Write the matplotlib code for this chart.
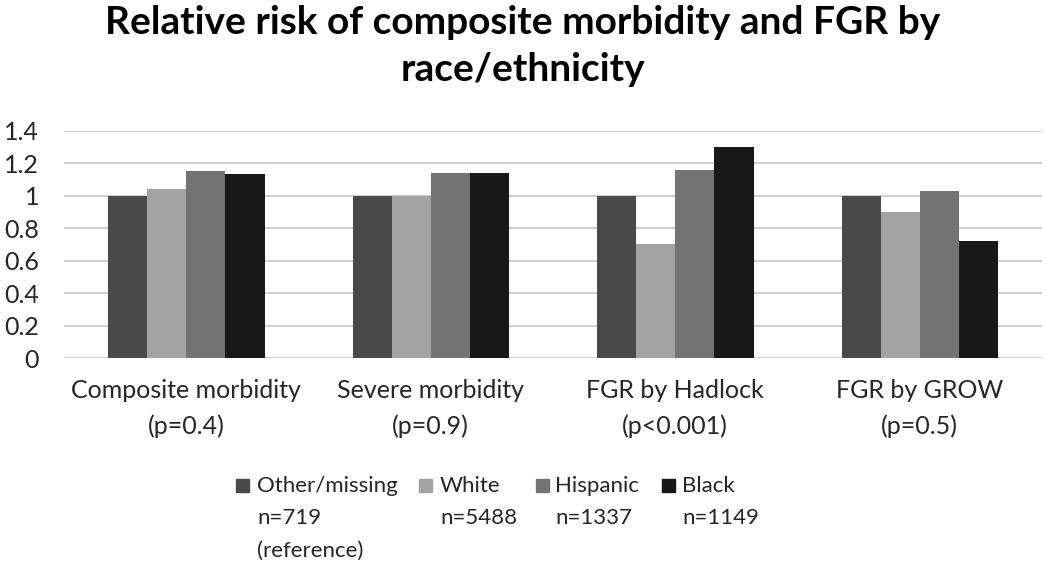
import numpy as np
import matplotlib.pyplot as plt
from matplotlib.patches import Rectangle

plt.rcParams['font.family'] = ['Lato', 'DejaVu Sans']

categories = ['Composite morbidity\n(p=0.4)', 'Severe morbidity\n(p=0.9)',
              'FGR by Hadlock\n(p<0.001)', 'FGR by GROW\n(p=0.5)']
series_names = ['Other/missing\nn=719\n(reference)', 'White\nn=5488',
                'Hispanic\nn=1337', 'Black\nn=1149']
other_missing = [1.0, 1.0, 1.0, 1.0]
white = [1.04, 1.0, 0.70, 0.90]
hispanic = [1.15, 1.14, 1.155, 1.03]
black = [1.13, 1.14, 1.30, 0.72]
colors = ['#494949', '#a3a3a3', '#737373', '#181818']
yticks = [0, 0.2, 0.4, 0.6, 0.8, 1, 1.2, 1.4]
ytick_labels = ['0', '0.2', '0.4', '0.6', '0.8', '1', '1.2', '1.4']

series = [other_missing, white, hispanic, black]
text_color = '#262626'

fig = plt.figure(figsize=(10.46, 5.65), dpi=100)
ax = fig.add_axes([0.0612, 0.366, 0.935, 0.403])

x = np.arange(len(categories))
width = 0.16
for i, vals in enumerate(series):
    ax.bar(x + (i - 1.5) * width, vals, width, color=colors[i], zorder=3)

ax.set_ylim(0, 1.4)
ax.set_xlim(-0.5, len(categories) - 0.5)
ax.set_yticks(yticks)
ax.set_yticklabels(ytick_labels, fontsize=18, color=text_color)
ax.set_xticks(x)
ax.set_xticklabels(categories, fontsize=18, color=text_color, linespacing=1.65)
ax.tick_params(length=0)
ax.tick_params(axis='x', pad=15)
ax.tick_params(axis='y', pad=18)
ax.grid(axis='y', color='#d0d0d0', linewidth=1.5, zorder=0)
for s in ax.spines.values():
    s.set_visible(False)

fig.text(0.5, 1 - 46 / 565,
         'Relative risk of composite morbidity and FGR by\nrace/ethnicity',
         fontsize=28, fontweight='bold', ha='center', va='center',
         linespacing=1.42, color='black')

# legend drawn by hand so the square sits beside the first line
sq_x = [236, 419, 536, 662]
txt_x = [257, 440, 555, 682]
for i, name in enumerate(series_names):
    fig.patches.append(Rectangle((sq_x[i] / 1046, 1 - 492 / 565), 13 / 1046, 13 / 565,
                                 transform=fig.transFigure, color=colors[i]))
    fig.text(txt_x[i] / 1046, 1 - 476 / 565, name, fontsize=16, color=text_color,
             va='top', ha='left', linespacing=1.78)

fig.savefig('out.png', dpi=100)
